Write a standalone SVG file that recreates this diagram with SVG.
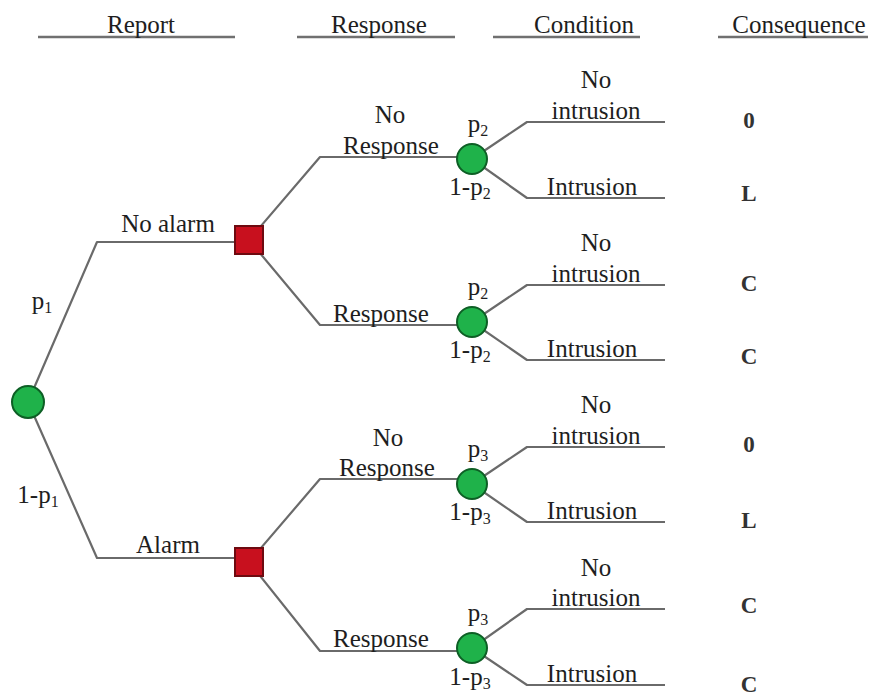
<svg xmlns="http://www.w3.org/2000/svg" width="871" height="698" viewBox="0 0 871 698">
  <style>
    text { font-family: "Liberation Serif", "DejaVu Serif", serif; font-size: 25px; fill: #1e1e1e; text-anchor: middle; }
    .sub { font-size: 16px; }
    .cons { font-size: 23px; font-weight: bold; fill: #333; }
    .hdr { stroke: #707070; stroke-width: 2.5; }
    .edge { fill: none; stroke: #6a6a6a; stroke-width: 2.2; stroke-linejoin: round; }
    .chance { fill: #1fb24a; stroke: #0d5f25; stroke-width: 2; }
    .decision { fill: #c8101e; stroke: #6e0a10; stroke-width: 2; }
  </style>

  <!-- column headings -->
  <g id="headings">
    <line class="hdr" x1="38" y1="37" x2="235" y2="37"/>
    <line class="hdr" x1="297" y1="37" x2="455" y2="37"/>
    <line class="hdr" x1="493" y1="37" x2="640" y2="37"/>
    <line class="hdr" x1="718" y1="37" x2="868" y2="37"/>
    <text x="141" y="33">Report</text>
    <text x="379" y="33">Response</text>
    <text x="584" y="33">Condition</text>
    <text x="799" y="33">Consequence</text>
  </g>

  <!-- branches of the tree -->
  <g id="connectors">
    <path class="edge" d="M28,402 L97,242 L249,242"/>
    <path class="edge" d="M28,402 L97,558 L249,558"/>
    <path class="edge" d="M249,240 L320,157 L472,157"/>
    <path class="edge" d="M249,240 L320,325 L472,325"/>
    <path class="edge" d="M249,562 L320,479 L472,479"/>
    <path class="edge" d="M249,562 L320,651 L472,651"/>
    <path class="edge" d="M472,159 L527,122 L665,122 M472,159 L527,198 L665,198"/>
    <path class="edge" d="M472,322 L527,285 L665,285 M472,322 L527,360 L665,360"/>
    <path class="edge" d="M472,484 L527,447 L665,447 M472,484 L527,522 L665,522"/>
    <path class="edge" d="M472,648 L527,609 L665,609 M472,648 L527,685 L665,685"/>
  </g>

  <!-- report stage -->
  <g id="root">
    <circle class="chance" cx="28" cy="402" r="16"/>
    <text x="42" y="309">p<tspan class="sub" dy="4">1</tspan></text>
    <text x="38" y="503">1-p<tspan class="sub" dy="4">1</tspan></text>
  </g>
  <g id="no-alarm">
    <text x="168" y="232">No alarm</text>
    <rect class="decision" x="235" y="226" width="28" height="28"/>
  </g>
  <g id="alarm">
    <text x="168" y="553">Alarm</text>
    <rect class="decision" x="235" y="548" width="28" height="28"/>
  </g>

  <!-- response stage -->
  <g id="no-response-1">
    <text x="390" y="123">No</text>
    <text x="391" y="154">Response</text>
    <circle class="chance" cx="472" cy="159" r="15"/>
    <text x="478" y="132">p<tspan class="sub" dy="4">2</tspan></text>
    <text x="470" y="195">1-p<tspan class="sub" dy="4">2</tspan></text>
  </g>
  <g id="response-1">
    <text x="381" y="322">Response</text>
    <circle class="chance" cx="472" cy="322" r="15"/>
    <text x="478" y="295">p<tspan class="sub" dy="4">2</tspan></text>
    <text x="470" y="358">1-p<tspan class="sub" dy="4">2</tspan></text>
  </g>
  <g id="no-response-2">
    <text x="388" y="446">No</text>
    <text x="387" y="476">Response</text>
    <circle class="chance" cx="472" cy="484" r="15"/>
    <text x="478" y="457">p<tspan class="sub" dy="4">3</tspan></text>
    <text x="470" y="520">1-p<tspan class="sub" dy="4">3</tspan></text>
  </g>
  <g id="response-2">
    <text x="381" y="647">Response</text>
    <circle class="chance" cx="472" cy="648" r="15"/>
    <text x="478" y="621">p<tspan class="sub" dy="4">3</tspan></text>
    <text x="470" y="685">1-p<tspan class="sub" dy="4">3</tspan></text>
  </g>

  <!-- condition stage -->
  <g id="conditions">
    <text x="596" y="88">No</text>
    <text x="596" y="119">intrusion</text>
    <text x="592" y="195">Intrusion</text>
    <text x="596" y="251">No</text>
    <text x="596" y="282">intrusion</text>
    <text x="592" y="357">Intrusion</text>
    <text x="596" y="413">No</text>
    <text x="596" y="444">intrusion</text>
    <text x="592" y="519">Intrusion</text>
    <text x="596" y="576">No</text>
    <text x="596" y="606">intrusion</text>
    <text x="592" y="682">Intrusion</text>
  </g>

  <!-- consequence stage -->
  <g id="consequences">
    <text class="cons" x="749" y="128">0</text>
    <text class="cons" x="749" y="201">L</text>
    <text class="cons" x="749" y="291">C</text>
    <text class="cons" x="749" y="364">C</text>
    <text class="cons" x="749" y="452">0</text>
    <text class="cons" x="749" y="528">L</text>
    <text class="cons" x="749" y="613">C</text>
    <text class="cons" x="749" y="692">C</text>
  </g>
</svg>
